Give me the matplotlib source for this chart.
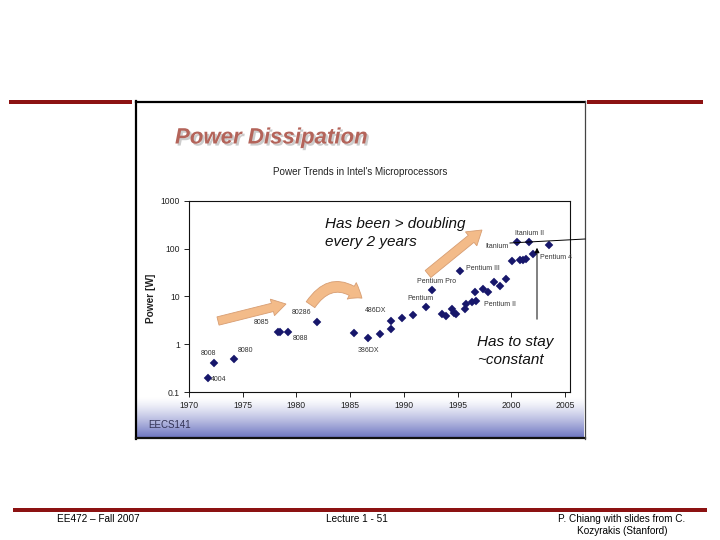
import numpy as np
import matplotlib
matplotlib.use("Agg")
import matplotlib.pyplot as plt
from matplotlib.patches import Rectangle, FancyArrow, FancyArrowPatch
from matplotlib.lines import Line2D
import matplotlib.patheffects as pe

# ---------------- data ----------------
years = [1971.8, 1972.3, 1974.2, 1978.26, 1978.5, 1979.25, 1981.9,
         1985.36, 1986.7, 1987.8, 1988.8, 1988.8, 1989.8, 1990.9,
         1992.07, 1992.63, 1993.53, 1993.93, 1994.49, 1994.7, 1994.83,
         1995.23, 1995.73, 1995.79, 1996.38, 1996.69, 1996.66, 1997.35,
         1997.87, 1998.4, 1998.99, 1999.49, 2000.05, 2000.82, 2001.07,
         2001.38, 2002.0, 2000.57, 2001.69, 2003.55]
power = [0.2, 0.41, 0.5, 1.78, 1.78, 1.78, 2.85,
         1.73, 1.36, 1.62, 2.06, 3.03, 3.56, 3.99,
         5.9, 13.3, 4.25, 3.86, 5.33, 4.52, 4.25,
         33.8, 5.49, 6.78, 7.47, 8.07, 12.4, 14.2,
         12.3, 19.9, 16.2, 22.6, 54.7, 58.2, 57.4,
         61.1, 76.7, 135, 135, 120]

chip_names = ["4004", "8008", "8080", "8085", "8088", "80286", "486DX",
              "386DX", "Pentium", "Pentium Pro", "Pentium III",
              "Pentium II", "Itanium", "Itanium II", "Pentium 4"]
chip_index = [0, 1, 2, 3, 5, 6, 11, 8, 14, 15, 21, 25, 37, 38, 36]

x_ticks = [1970, 1975, 1980, 1985, 1990, 1995, 2000, 2005]
y_ticks = [0.1, 1, 10, 100, 1000]
y_tick_labels = ["0.1", "1", "10", "100", "1000"]

# label layout: (dx, dy in points, ha, va)
label_layout = [(2, -1.5, "left", "center"), (-4, 6.5, "center", "center"),
                (8, 6, "center", "center"), (-11.5, 7, "center", "center"),
                (8.5, -4.5, "center", "center"), (-11, 7, "center", "center"),
                (-11, 7.5, "center", "center"), (0, -9, "center", "center"),
                (-4, 6.5, "center", "center"), (3.5, 6.5, "center", "center"),
                (4, 1.5, "left", "center"), (6, -2.5, "left", "center"),
                (-6, -3, "right", "center"), (0, 6, "center", "center"),
                (5, -2.5, "left", "center")]

SANS = ["Liberation Sans", "DejaVu Sans"]
plt.rcParams["font.family"] = SANS

W, H = 720, 540
fig = plt.figure(figsize=(7.2, 5.4), dpi=100)

# background overlay in pixel coordinates
bg = fig.add_axes([0, 0, 1, 1], zorder=0)
bg.set_xlim(0, W)
bg.set_ylim(H, 0)
bg.axis("off")

# gradient at bottom of slide image
t = np.linspace(0, 1, 100) ** 1.3
top = np.array([1.0, 1.0, 1.0])
bot = np.array([112, 120, 194]) / 255.0
grad = (top[None, :] * (1 - t[:, None]) + bot[None, :] * t[:, None])[:, None, :]
bg.imshow(grad, extent=(137, 584, 437, 397), aspect="auto", interpolation="bilinear", zorder=0)
bg.set_xlim(0, W)
bg.set_ylim(H, 0)

# frame of embedded picture
bg.add_line(Line2D([136, 136], [101, 438.5], color="black", lw=1.6))
bg.add_line(Line2D([136, 585], [101.5, 101.5], color="black", lw=1.6))
bg.add_line(Line2D([136, 585], [438, 438], color="#111111", lw=1.6))
bg.add_line(Line2D([584.5, 584.5], [101, 438.5], color="#444444", lw=0.9))

# red bars
red = "#8c1212"
bg.add_patch(Rectangle((9, 100), 123, 4, color=red, lw=0))
bg.add_patch(Rectangle((587, 100), 116, 4, color=red, lw=0))
bg.add_patch(Rectangle((13, 508), 694, 4, color=red, lw=0))

# footer texts
bg.text(57, 519, "EE472 \u2013 Fall 2007", fontsize=7.2, va="center", ha="left", color="black")
bg.text(357, 519, "Lecture 1 - 51", fontsize=7.2, va="center", ha="center", color="black")
bg.text(622, 519, "P. Chiang with slides from C.", fontsize=7.2, va="center", ha="center", color="black")
bg.text(622, 531, "Kozyrakis (Stanford)", fontsize=7.2, va="center", ha="center", color="black")

# title and subtitle of embedded slide
bg.text(175, 138, "Power Dissipation", fontsize=16, fontweight="bold", style="italic",
        color="#b4645a", va="center", ha="left",
        path_effects=[pe.withSimplePatchShadow(offset=(1.5, -1.5), shadow_rgbFace="#9a9a9a", alpha=0.5)])
bg.text(360, 172, "Power Trends in Intel's Microprocessors", fontsize=7.1, va="center",
        ha="center", color="#222222")
bg.text(151, 298, "Power [W]", fontsize=7.3, fontweight="bold", rotation=90, va="center",
        ha="center", color="#222222")
bg.text(148, 425, "EECS141", fontsize=7, va="center", ha="left", color="#333355")

# data axes
ax_l, ax_r, ax_t, ax_b = 189, 570, 200.7, 392
ax = fig.add_axes([ax_l / W, 1 - ax_b / H, (ax_r - ax_l) / W, (ax_b - ax_t) / H], zorder=1)
ax.set_facecolor("none")
ax.set_yscale("log")
ax.set_xlim(1970, 1970 + (ax_r - ax_l) / 10.74)
ax.set_ylim(0.1, 1000)
ax.set_xticks(x_ticks)
ax.set_xticklabels([str(v) for v in x_ticks], fontsize=6.2, color="#222222")
ax.set_yticks(y_ticks)
ax.set_yticklabels(y_tick_labels, fontsize=6.2, color="#222222")
ax.yaxis.set_minor_locator(matplotlib.ticker.NullLocator())
ax.tick_params(axis="both", direction="out", length=3.5, width=0.7, pad=3, colors="#222222")
for s in ax.spines.values():
    s.set_linewidth(0.8)
    s.set_color("#111111")

ax.plot(years, power, linestyle="none", marker="D", markersize=4.0,
        color="#17176b", markeredgewidth=0.3, zorder=3)

for name, idx, (dx, dy, ha, va) in zip(chip_names, chip_index, label_layout):
    ax.annotate(name, xy=(years[idx], power[idx]), xytext=(dx, dy), textcoords="offset points",
                ha=ha, va=va, fontsize=5.0, color="#333333")

# top overlay for arrows and comments
ov = fig.add_axes([0, 0, 1, 1], zorder=2)
ov.set_facecolor("none")
ov.set_xlim(0, W)
ov.set_ylim(H, 0)
ov.axis("off")

fc_arrow = "#f3bb89"
ec_arrow = "#d79d72"
ov.add_patch(FancyArrow(218, 321, 68, -17, width=8.5, head_width=17, head_length=14,
                        length_includes_head=True, fc=fc_arrow, ec=ec_arrow, lw=0.6))
ov.add_patch(FancyArrow(428, 274, 54, -44, width=9, head_width=18, head_length=14,
                        length_includes_head=True, fc=fc_arrow, ec=ec_arrow, lw=0.6))
ov.add_patch(FancyArrowPatch((309, 307), (364, 300), connectionstyle="arc3,rad=-0.6",
                             arrowstyle="simple,head_length=0.9,head_width=1.35,tail_width=0.75",
                             mutation_scale=10, fc=fc_arrow, ec=ec_arrow, lw=0.6))

ov.add_line(Line2D([510, 585], [243, 239], color="black", lw=0.7))
ov.annotate("", xy=(537, 245), xytext=(537, 322),
            arrowprops=dict(arrowstyle="-|>", color="black", lw=0.7, mutation_scale=7))

ov.text(325, 224, "Has been > doubling", fontsize=11, style="italic", ha="left", va="center", color="#111111")
ov.text(325, 242, "every 2 years", fontsize=11, style="italic", ha="left", va="center", color="#111111")
ov.text(477, 342, "Has to stay", fontsize=11, style="italic", ha="left", va="center", color="#111111")
ov.text(477, 360, "~constant", fontsize=11, style="italic", ha="left", va="center", color="#111111")

fig.savefig("out.png", dpi=100)
